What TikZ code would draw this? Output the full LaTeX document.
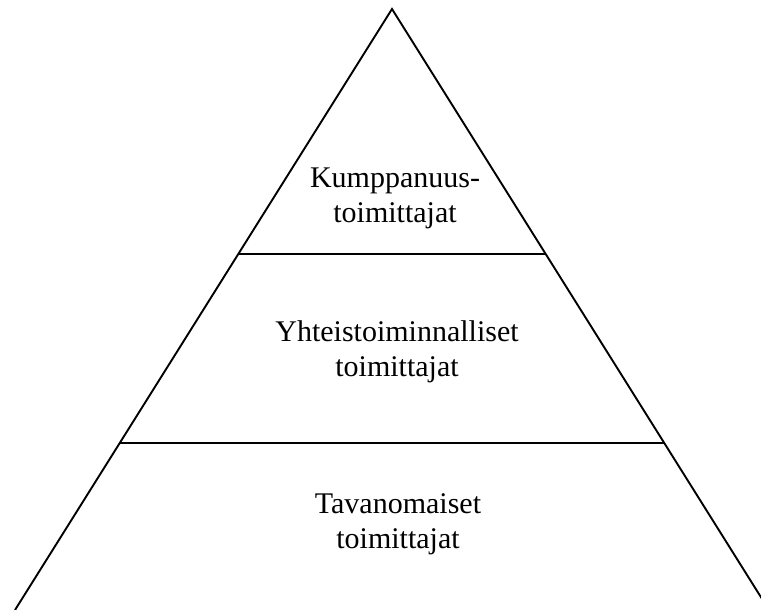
\documentclass[tikz,border=0pt]{standalone}
\usepackage{fontspec}
\setmainfont{Liberation Serif}
\usetikzlibrary{calc}
\begin{document}
\begin{tikzpicture}[x=1pt,y=-1pt,
  edge/.style={line width=1.9pt, line join=miter},
  tier/.style={align=center, anchor=base, inner sep=0pt,
    font=\fontsize{30}{35}\selectfont}]
  \useasboundingbox (0,0) rectangle (761,610);
  \clip (0,0) rectangle (761,610);
  % pyramid outline
  \coordinate (apex) at (392,9);
  \coordinate (bl) at (15,610);
  \coordinate (br) at (769,610);
  \draw[edge] (bl) -- (apex) -- (br);
  % tier dividers
  \coordinate (l1) at ($(apex)!0.4077!(bl)$);
  \coordinate (r1) at ($(apex)!0.4077!(br)$);
  \coordinate (l2) at ($(apex)!0.7221!(bl)$);
  \coordinate (r2) at ($(apex)!0.7221!(br)$);
  \draw[edge] (l1) -- (r1);
  \draw[edge] (l2) -- (r2);
  % tier labels (anchored on the baseline of the last line)
  \node[tier] (top) at (395,222) {Kumppanuus-\\toimittajat};
  \node[tier] (mid) at (397,376) {Yhteistoiminnalliset\\toimittajat};
  \node[tier] (low) at (398,548) {Tavanomaiset\\toimittajat};
\end{tikzpicture}
\end{document}
